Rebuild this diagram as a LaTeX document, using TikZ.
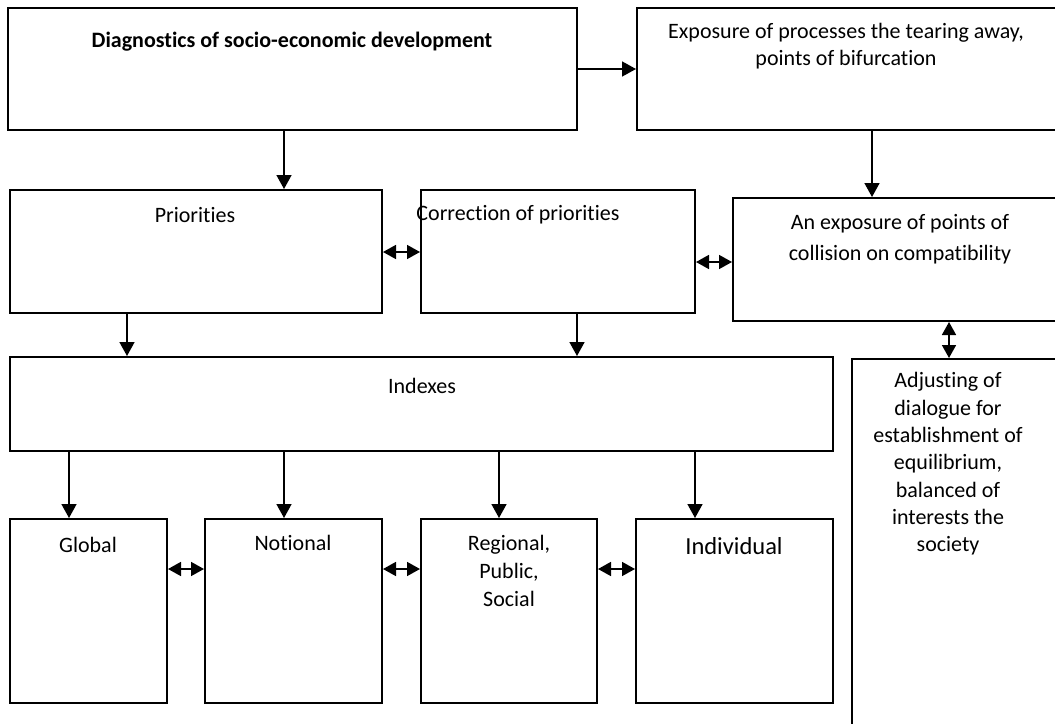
\documentclass[tikz,border=0pt]{standalone}
\usepackage{fontspec}
\setmainfont{Carlito}[RawFeature={-liga}]
\usetikzlibrary{arrows.meta,fit}
\begin{document}
\begin{tikzpicture}[x=1pt,y=-1pt,
  box/.style={draw=black,line width=2pt,inner sep=0pt,fill=white},
  lbl/.style={inner sep=0pt,align=center,font=\fontsize{22}{27}\selectfont},
  arr/.style={line width=1.6pt,-{Triangle[length=14pt,width=15pt]}},
  darr/.style={line width=1.6pt,{Triangle[length=13pt,width=14pt]}-{Triangle[length=13pt,width=14pt]}}]
\clip (0,0) rectangle (1055,723);
\fill[white] (0,0) rectangle (1055,723);
% boxes
\node[box,fit={(8,8)(577,130)}] (diag) {};
\node[box,fit={(637,8)(1080,130)}] (expo) {};
\node[box,fit={(10,190)(382,313)}] (prio) {};
\node[box,fit={(421,190)(695,313)}] (corr) {};
\node[box,fit={(733,198)(1080,321)}] (coll) {};
\node[box,fit={(10,357)(833,451)}] (idx) {};
\node[box,fit={(852,359)(1080,750)}] (adj) {};
\node[box,fit={(10,519)(167,703)}] (glob) {};
\node[box,fit={(205,519)(382,703)}] (noti) {};
\node[box,fit={(421,519)(597,703)}] (regi) {};
\node[box,fit={(636,519)(833,703)}] (indi) {};
% texts
\node[lbl,font=\fontsize{22}{27}\selectfont\bfseries] (tdiag) at (292,42) {Diagnostics of socio-economic development};
\node[lbl] (texpo) at (846,46) {Exposure of processes the tearing away,\\points of bifurcation};
\node[lbl] (tprio) at (195,215) {Priorities};
\node[lbl] (tcorr) at (518,215) {Correction of priorities};
\node[lbl,font=\fontsize{22}{31}\selectfont] (tcoll) at (900,239) {An exposure of points of\\collision on compatibility};
\node[lbl] (tidx) at (422,386) {Indexes};
\node[lbl,font=\fontsize{22}{27.3}\selectfont] (tadj) at (948,464) {Adjusting of\\dialogue for\\establishment of\\equilibrium,\\balanced of\\interests the\\society};
\node[lbl] (tglob) at (88,545) {Global};
\node[lbl] (tnoti) at (293,543) {Notional};
\node[lbl,font=\fontsize{22}{28}\selectfont] (tregi) at (509,571) {Regional,\\Public,\\Social};
\node[lbl,font=\fontsize{24.5}{29}\selectfont] (tindi) at (734,546) {Individual};
% connectors
\draw[arr] (diag.east |- 0,69) -- (expo.west |- 0,69);
\draw[arr] (diag.south -| 284,0) -- (prio.north -| 284,0);
\draw[arr] (expo.south -| 872,0) -- (coll.north -| 872,0);
\draw[arr] (prio.south -| 127,0) -- (idx.north -| 127,0);
\draw[arr] (corr.south -| 577,0) -- (idx.north -| 577,0);
\draw[arr] (idx.south -| 69,0) -- (glob.north -| 69,0);
\draw[arr] (idx.south -| 284,0) -- (noti.north -| 284,0);
\draw[arr] (idx.south -| 499,0) -- (regi.north -| 499,0);
\draw[arr] (idx.south -| 695,0) -- (indi.north -| 695,0);
\draw[darr] (prio.east |- 0,252) -- (corr.west |- 0,252);
\draw[darr] (corr.east |- 0,262) -- (coll.west |- 0,262);
\draw[darr] (coll.south -| 949,0) -- (adj.north -| 949,0);
\draw[darr] (glob.east |- 0,569) -- (noti.west |- 0,569);
\draw[darr] (noti.east |- 0,569) -- (regi.west |- 0,569);
\draw[darr] (regi.east |- 0,569) -- (indi.west |- 0,569);
\end{tikzpicture}
\end{document}
